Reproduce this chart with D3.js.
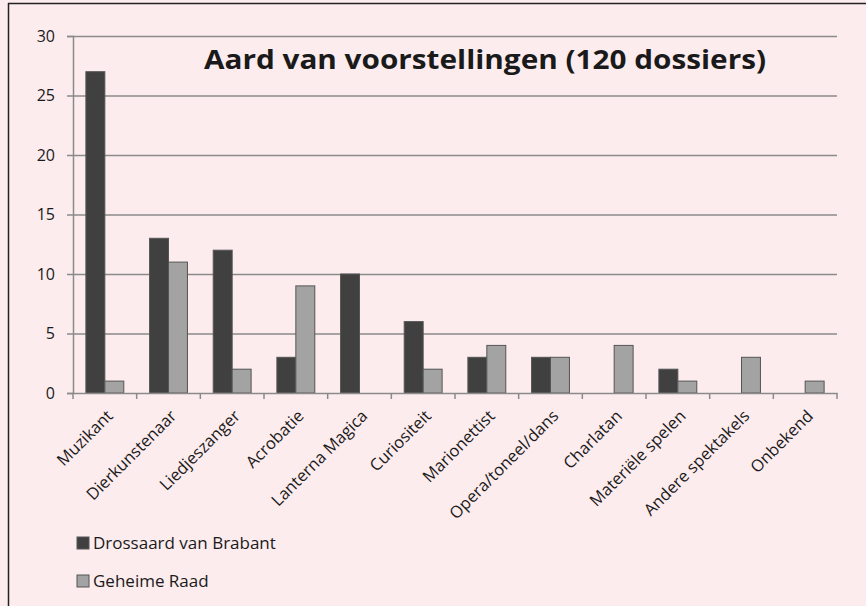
<!DOCTYPE html>
<html>
<head>
<meta charset="utf-8">
<script src="https://cdn.jsdelivr.net/npm/d3@7"></script>
<style>
  body { margin: 0; background: #fff; }
  svg { display: block; }
  text { font-family: "Open Sans", "Noto Sans", sans-serif; fill: #1a1a1a; }
</style>
</head>
<body>
<svg id="chart" width="866" height="606"></svg>
<script>
const categories = ["Muzikant", "Dierkunstenaar", "Liedjeszanger", "Acrobatie", "Lanterna Magica",
  "Curiositeit", "Marionettist", "Opera/toneel/dans", "Charlatan", "Materiële spelen",
  "Andere spektakels", "Onbekend"];
const drossaard = [27, 13, 12, 3, 10, 6, 3, 3, 0, 2, 0, 0];
const geheimeRaad = [1, 11, 2, 9, 0, 2, 4, 3, 4, 1, 3, 1];
const seriesNames = ["Drossaard van Brabant", "Geheime Raad"];
const yTicks = [0, 5, 10, 15, 20, 25, 30];

const svg = d3.select("#chart");

// background + frame (only top and left edges show)
svg.append("rect").attr("x", 0).attr("y", 0).attr("width", 866).attr("height", 606).attr("fill", "#fdecee");
svg.append("line").attr("x1", 8).attr("x2", 866).attr("y1", 3.5).attr("y2", 3.5).attr("stroke", "#222").attr("stroke-width", 1.5);
svg.append("line").attr("x1", 8.5).attr("x2", 8.5).attr("y1", 3).attr("y2", 606).attr("stroke", "#222").attr("stroke-width", 1.5);

const plotLeft = 73, plotRight = 837, plotTop = 36, plotBottom = 393;

const x = d3.scaleBand().domain(categories).range([plotLeft, plotRight]);
const x1 = d3.scaleBand().domain(seriesNames).range([0, x.bandwidth()]).paddingInner(0).paddingOuter(0.68);
const y = d3.scaleLinear().domain([0, 30]).range([plotBottom, plotTop]);

// gridlines
svg.append("g").selectAll("line")
  .data(yTicks.filter(d => d > 0))
  .join("line")
  .attr("x1", plotLeft).attr("x2", plotRight)
  .attr("y1", d => y(d) + 0.5).attr("y2", d => y(d) + 0.5)
  .attr("stroke", "#8a8a8a").attr("stroke-width", 1.5);

// y axis
const yAxis = svg.append("g").attr("transform", `translate(${plotLeft},0)`)
  .call(d3.axisLeft(y).tickValues(yTicks).tickSize(6).tickPadding(12));
yAxis.select(".domain").attr("stroke", "#8a8a8a").attr("stroke-width", 1.5);
yAxis.selectAll(".tick line").attr("stroke", "#8a8a8a").attr("stroke-width", 1.5);
yAxis.selectAll(".tick text").attr("font-size", 16).attr("fill", "#1a1a1a")
  .attr("font-family", "Open Sans");

// bars
const colors = ["#404040", "#a3a3a3"];
const data = categories.map((c, i) => ({ cat: c, vals: [drossaard[i], geheimeRaad[i]] }));
const groups = svg.append("g").selectAll("g")
  .data(data)
  .join("g")
  .attr("transform", d => `translate(${x(d.cat)},0)`);
groups.selectAll("rect")
  .data(d => d.vals.map((v, k) => ({ name: seriesNames[k], v: v, k: k })).filter(e => e.v > 0))
  .join("rect")
  .attr("x", e => x1(e.name))
  .attr("width", x1.bandwidth())
  .attr("y", e => y(e.v))
  .attr("height", e => y(0) - y(e.v))
  .attr("fill", e => colors[e.k])
  .attr("stroke", "#555")
  .attr("stroke-width", 1);

// x axis
const xAxis = svg.append("g").attr("transform", `translate(0,${plotBottom})`)
  .call(d3.axisBottom(x).tickSize(0).tickFormat(""));
xAxis.select(".domain").attr("stroke", "#8a8a8a").attr("stroke-width", 1.5);
svg.append("g").selectAll("line")
  .data(d3.range(categories.length + 1))
  .join("line")
  .attr("x1", i => plotLeft + i * x.step()).attr("x2", i => plotLeft + i * x.step())
  .attr("y1", plotBottom).attr("y2", plotBottom + 6)
  .attr("stroke", "#8a8a8a").attr("stroke-width", 1.5);

svg.append("g").selectAll("text")
  .data(categories)
  .join("text")
  .attr("transform", d => `translate(${x(d) + x.bandwidth() / 2 + 9},${plotBottom + 24}) rotate(-45)`)
  .attr("text-anchor", "end")
  .attr("font-size", 16.5)
  .text(d => d);

// title
svg.append("text")
  .attr("x", 485).attr("y", 69)
  .attr("text-anchor", "middle")
  .attr("font-size", 27)
  .attr("font-weight", "bold")
  .attr("textLength", 562)
  .attr("lengthAdjust", "spacingAndGlyphs")
  .text("Aard van voorstellingen (120 dossiers)");

// legend
const legend = svg.append("g").selectAll("g")
  .data(seriesNames)
  .join("g")
  .attr("transform", (d, i) => `translate(77,${537 + i * 38})`);
legend.append("rect")
  .attr("width", 12).attr("height", 12)
  .attr("fill", (d, i) => colors[i])
  .attr("stroke", "#555");
legend.append("text")
  .attr("x", 16).attr("y", 12)
  .attr("font-size", 17)
  .text(d => d);
</script>
</body>
</html>
